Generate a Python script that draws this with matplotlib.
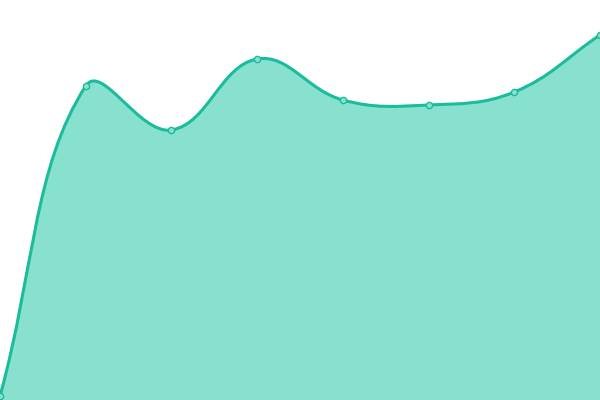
import matplotlib
matplotlib.use("Agg")
import matplotlib.pyplot as plt
import numpy as np
from matplotlib.path import Path
from matplotlib.patches import PathPatch

# values (0 = bottom, 400 = top)
labels = ["1", "2", "3", "4", "5", "6", "7", "8"]
values = [4, 314, 270, 341, 300, 295, 308, 365]

LINE = "#1abc9c"
FILL = "#88e0cf"
TENSION = 0.4


def control_points(pts, t):
    # cardinal-like spline as in chart.js
    ctrl = []
    n = len(pts)
    for i in range(n):
        prev = pts[max(i - 1, 0)]
        cur = pts[i]
        nxt = pts[min(i + 1, n - 1)]
        d01 = np.hypot(*(cur - prev))
        d12 = np.hypot(*(nxt - cur))
        tot = d01 + d12
        s01 = d01 / tot if tot else 0
        s12 = d12 / tot if tot else 0
        ctrl.append((cur - t * s01 * (nxt - prev), cur + t * s12 * (nxt - prev)))
    return ctrl


fig = plt.figure(figsize=(6, 4), dpi=100)
ax = fig.add_axes([0, 0, 1, 1])
ax.set_xlim(0, len(values) - 1)
ax.set_ylim(0, 400)
ax.axis("off")

x = np.arange(len(values))
disp = ax.transData.transform(np.column_stack([x, values]))
ctrl = control_points(disp, TENSION)

verts = [disp[0]]
codes = [Path.MOVETO]
for i in range(len(disp) - 1):
    verts += [ctrl[i][1], ctrl[i + 1][0], disp[i + 1]]
    codes += [Path.CURVE4] * 3
inv = ax.transData.inverted()
verts_d = inv.transform(np.array(verts))

line_path = Path(verts_d, codes)
fill_verts = list(verts_d) + [(x[-1], 0), (x[0], 0), verts_d[0]]
fill_codes = codes + [Path.LINETO, Path.LINETO, Path.CLOSEPOLY]
ax.add_patch(PathPatch(Path(fill_verts, fill_codes), facecolor=FILL,
                       edgecolor="none", zorder=1))
ax.add_patch(PathPatch(line_path, facecolor="none", edgecolor=LINE,
                       lw=2.2, zorder=2, clip_on=False))
ax.plot(x, values, "o", ms=4.5, mfc=FILL, mec=LINE, mew=1, zorder=3,
        clip_on=False)

fig.savefig("out.png", dpi=100)
